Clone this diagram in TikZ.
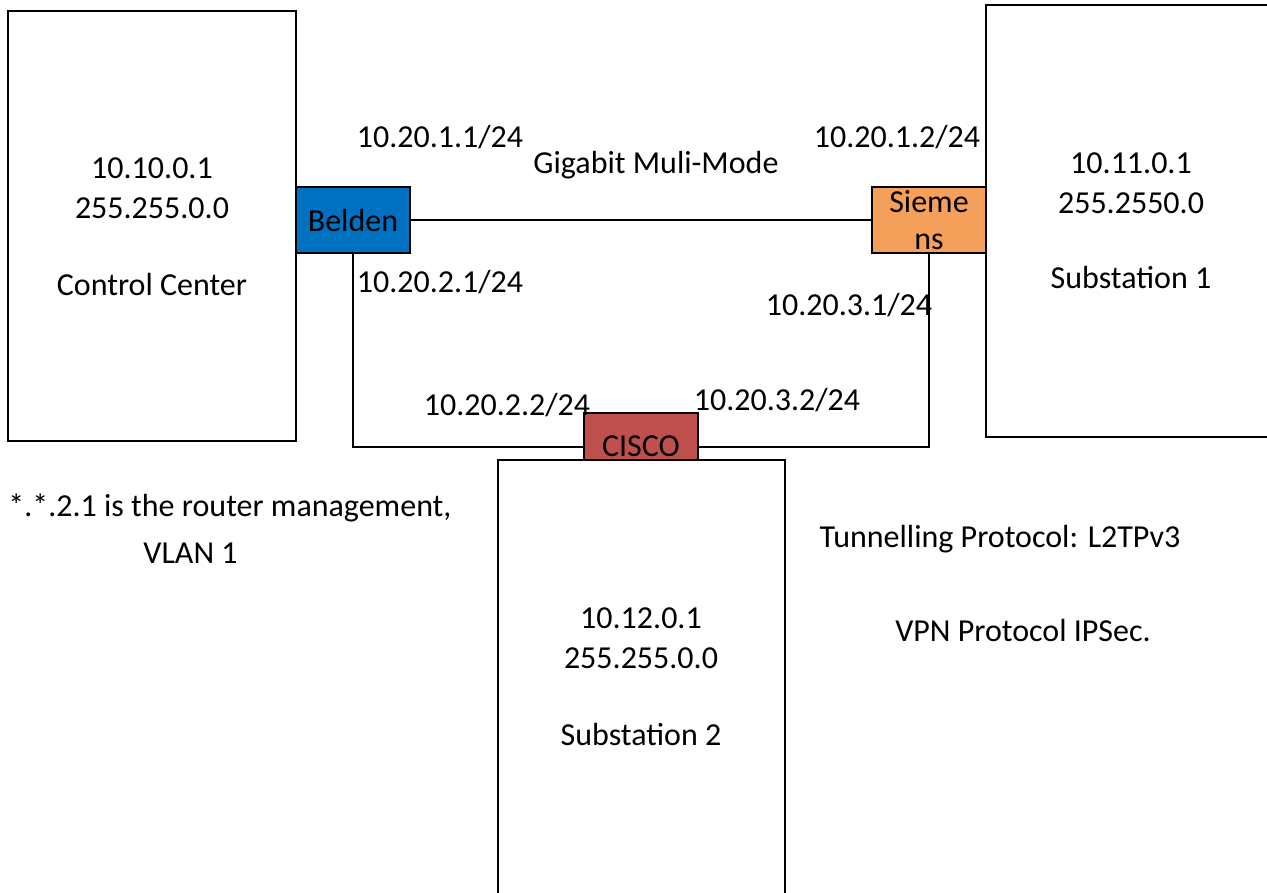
\documentclass[tikz,border=0pt]{standalone}
\usepackage{fontspec}
\setmainfont{Carlito}
\definecolor{beldenblue}{HTML}{0070C0}
\definecolor{siemensorange}{HTML}{F5A05A}
\definecolor{ciscored}{HTML}{C0504D}
\begin{document}
\begin{tikzpicture}[x=0.5bp,y=-0.5bp,
  font=\fontsize{16bp}{18.5bp}\selectfont,
  box/.style={draw, line width=1.1bp, fill=white, inner sep=0},
  dev/.style={draw, line width=1.1bp, minimum width=57bp, minimum height=33bp, inner sep=0, align=center},
  lbl/.style={anchor=base, inner sep=0},
  lblw/.style={anchor=base west, inner sep=0},
  wire/.style={line width=1.1bp}]
\useasboundingbox (0,0) rectangle (1267,892);
\clip (0,0) rectangle (1267,892);
% site boxes
\node[box, minimum width=144bp, minimum height=215bp] (cc) at (152,226) {};
\node[box, minimum width=144.5bp, minimum height=216bp] (sub1) at (1130.5,221) {};
\node[box, minimum width=143.5bp, minimum height=220bp] (sub2) at (641.5,680) {};
% devices
\node[dev, fill=beldenblue] (belden) at (353,220) {Belden};
\node[dev, fill=siemensorange] (siemens) at (929,220) {Sieme\\ns};
\node[dev, fill=ciscored, minimum height=23.5bp] (cisco) at (641,436.5) {};
\node[lbl] (ciscotext) at (641,456) {CISCO};
% links
\draw[wire] (belden.east) -- (siemens.west);
\draw[wire] (belden.south) |- ([yshift=7bp]cisco.south west);
\draw[wire] (siemens.south) |- ([yshift=7bp]cisco.south east);
% box texts
\node[lbl] (cc1) at (152,178) {10.10.0.1};
\node[lbl] (cc2) at (152,218) {255.255.0.0};
\node[lbl] (cc3) at (152,295) {Control Center};
\node[lbl] (s11) at (1131,173) {10.11.0.1};
\node[lbl] (s12) at (1131,213) {255.2550.0};
\node[lbl] (s13) at (1131,288) {Substation 1};
\node[lbl] (s21) at (641,628) {10.12.0.1};
\node[lbl] (s22) at (641,668) {255.255.0.0};
\node[lbl] (s23) at (641,745) {Substation 2};
% link labels
\node[lbl] (ip1) at (440,147) {10.20.1.1/24};
\node[lbl] (ip2) at (897,147) {10.20.1.2/24};
\node[lbl] (gig) at (656,173) {Gigabit Muli-Mode};
\node[lbl] (ip3) at (440,292) {10.20.2.1/24};
\node[lbl] (ip4) at (849,315) {10.20.3.1/24};
\node[lbl] (ip5) at (507,415) {10.20.2.2/24};
\node[lbl] (ip6) at (777,410) {10.20.3.2/24};
% notes
\node[lblw] (note1) at (8,516) {*.*.2.1 is the router management,};
\node[lblw] (note2) at (143,563) {VLAN 1};
\node[lbl] (tun) at (1000,547) {Tunnelling Protocol: L2TPv3};
\node[lbl] (vpn) at (1023,641) {VPN Protocol IPSec.};
\end{tikzpicture}
\end{document}
